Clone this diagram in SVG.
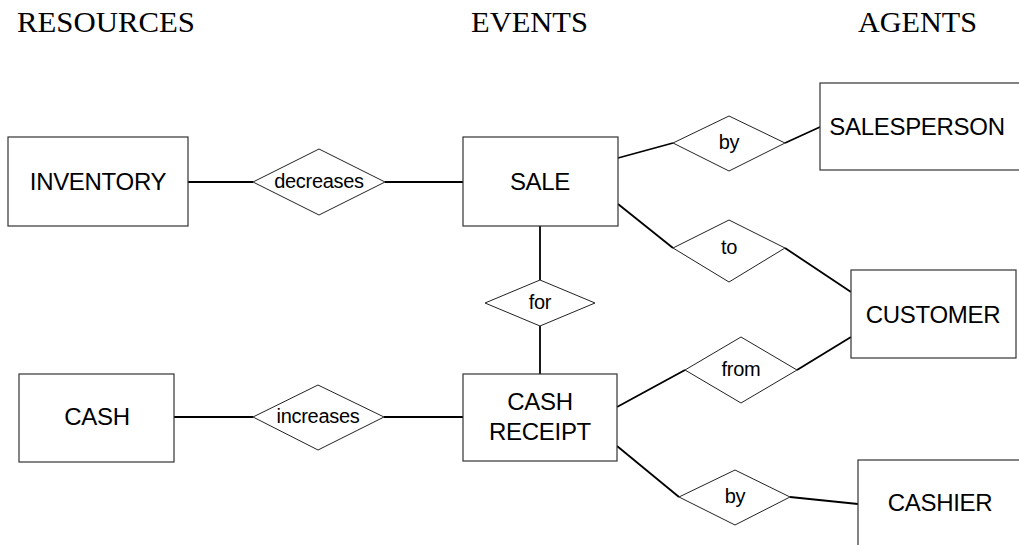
<svg xmlns="http://www.w3.org/2000/svg" width="1019" height="545" viewBox="0 0 1019 545">
  <style>
    .entity { fill: #fff; stroke: #333; stroke-width: 1.2; }
    .rel { fill: #fff; stroke: #222; stroke-width: 1; }
    .conn { stroke: #000; stroke-width: 1.8; fill: none; }
    .head { font-family: "Liberation Serif", "Times New Roman", serif; font-size: 29px; fill: #000; }
    .elabel { font-family: "Liberation Sans", Arial, sans-serif; font-size: 24px; fill: #000; text-anchor: middle; dominant-baseline: central; letter-spacing: -0.3px; }
    .rlabel { font-family: "Liberation Sans", Arial, sans-serif; font-size: 20px; fill: #000; text-anchor: middle; dominant-baseline: central; letter-spacing: -0.3px; }
  </style>
  <rect width="1019" height="545" fill="#fff"/>

  <!-- column headings -->
  <g id="headings">
    <text class="head" x="17" y="32" textLength="178" lengthAdjust="spacingAndGlyphs">RESOURCES</text>
    <text class="head" x="471" y="32" textLength="117" lengthAdjust="spacingAndGlyphs">EVENTS</text>
    <text class="head" x="858" y="32" textLength="119" lengthAdjust="spacingAndGlyphs">AGENTS</text>
  </g>

  <!-- connectors -->
  <g id="connectors">
    <line class="conn" x1="188" y1="182" x2="253" y2="182"/>
    <line class="conn" x1="385" y1="182" x2="463" y2="182"/>
    <line class="conn" x1="174" y1="417" x2="253" y2="417"/>
    <line class="conn" x1="384" y1="417" x2="463" y2="417"/>
    <line class="conn" x1="540" y1="226" x2="540" y2="280"/>
    <line class="conn" x1="540" y1="326" x2="540" y2="374"/>
    <line class="conn" x1="618" y1="158" x2="673" y2="143"/>
    <line class="conn" x1="785" y1="143" x2="820" y2="127"/>
    <line class="conn" x1="618" y1="204" x2="673" y2="248"/>
    <line class="conn" x1="785" y1="248" x2="851" y2="292"/>
    <line class="conn" x1="617" y1="407" x2="685" y2="370"/>
    <line class="conn" x1="797" y1="370" x2="851" y2="337"/>
    <line class="conn" x1="617" y1="446" x2="679" y2="497"/>
    <line class="conn" x1="790" y1="497" x2="858" y2="504"/>
  </g>

  <!-- entities -->
  <g id="inventory">
    <rect class="entity" x="8" y="137" width="180" height="89"/>
    <text class="elabel" x="98" y="181">INVENTORY</text>
  </g>
  <g id="cash">
    <rect class="entity" x="19" y="374" width="155" height="88"/>
    <text class="elabel" x="97" y="416">CASH</text>
  </g>
  <g id="sale">
    <rect class="entity" x="463" y="137" width="155" height="89"/>
    <text class="elabel" x="540" y="181">SALE</text>
  </g>
  <g id="cash-receipt">
    <rect class="entity" x="463" y="374" width="154" height="87"/>
    <text class="elabel" x="540" y="401">CASH</text>
    <text class="elabel" x="540" y="431">RECEIPT</text>
  </g>
  <g id="salesperson">
    <rect class="entity" x="820" y="83" width="205" height="87"/>
    <text class="elabel" x="917" y="126">SALESPERSON</text>
  </g>
  <g id="customer">
    <rect class="entity" x="851" y="270" width="165" height="88"/>
    <text class="elabel" x="933" y="314">CUSTOMER</text>
  </g>
  <g id="cashier">
    <rect class="entity" x="858" y="460" width="170" height="95"/>
    <text class="elabel" x="940" y="502">CASHIER</text>
  </g>

  <!-- relationships -->
  <g id="rel-decreases">
    <polygon class="rel" points="253,182 319,149 385,182 319,215"/>
    <text class="rlabel" x="319" y="181">decreases</text>
  </g>
  <g id="rel-increases">
    <polygon class="rel" points="253,417 318,385 384,417 318,450"/>
    <text class="rlabel" x="318" y="416">increases</text>
  </g>
  <g id="rel-for">
    <polygon class="rel" points="485,303 540,280 595,303 540,326"/>
    <text class="rlabel" x="540" y="302">for</text>
  </g>
  <g id="rel-by-sale">
    <polygon class="rel" points="673,143 729,116 785,143 729,171"/>
    <text class="rlabel" x="729" y="142">by</text>
  </g>
  <g id="rel-to">
    <polygon class="rel" points="673,248 729,220 785,248 729,282"/>
    <text class="rlabel" x="729" y="247">to</text>
  </g>
  <g id="rel-from">
    <polygon class="rel" points="685,370 741,337 797,370 741,403"/>
    <text class="rlabel" x="741" y="369">from</text>
  </g>
  <g id="rel-by-receipt">
    <polygon class="rel" points="679,497 735,470 790,497 735,525"/>
    <text class="rlabel" x="735" y="496">by</text>
  </g>
</svg>
